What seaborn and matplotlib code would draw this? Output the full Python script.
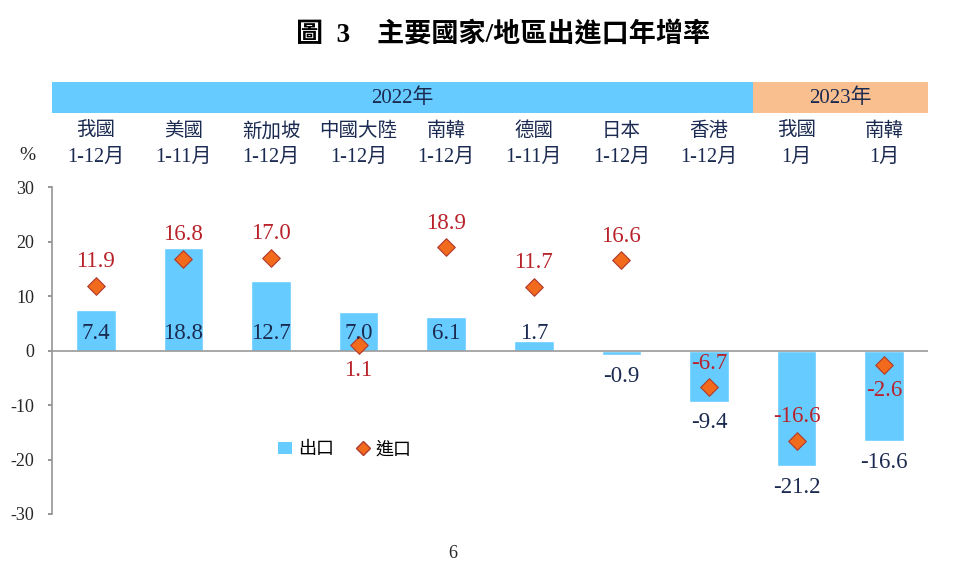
import matplotlib
matplotlib.use('Agg')
import matplotlib.pyplot as plt
import seaborn as sns
import pandas as pd
from matplotlib.patches import Rectangle, Patch
from matplotlib.lines import Line2D

# data
regions = ['我國', '美國', '新加坡', '中國大陸', '南韓', '德國', '日本', '香港', '我國', '南韓']
periods = ['1-12月', '1-11月', '1-12月', '1-12月', '1-12月', '1-11月', '1-12月', '1-12月', '1月', '1月']
exports = [7.4, 18.8, 12.7, 7.0, 6.1, 1.7, -0.9, -9.4, -21.2, -16.6]
imports = [11.9, 16.8, 17.0, 1.1, 18.9, 11.7, 16.6, -6.7, -16.6, -2.6]
import_label_below = [False, False, False, True, False, False, False, False, False, True]
years = ['2022年', '2023年']
year_counts = [8, 2]

sns.set_theme(style='white')
plt.rcParams['font.family'] = ['Liberation Serif', 'Noto Sans CJK TC']
plt.rcParams['axes.unicode_minus'] = False

BAR_BLUE = '#66CCFF'
BAND_ORANGE = '#F9BF8F'
NAVY = '#1B2A50'
RED = '#B8222A'

df = pd.DataFrame({'pos': range(len(regions)), 'exports': exports, 'imports': imports})

fig = plt.figure(figsize=(9.59, 5.64), dpi=100)
ax = fig.add_axes([52/959, 1-514/564, 876/959, 327/564])

sns.barplot(data=df, x='pos', y='exports', color=BAR_BLUE, width=0.45,
            saturation=1, ax=ax, native_scale=True)
sns.scatterplot(data=df, x='pos', y='imports', marker='D', s=80,
                color='#F26B1D', edgecolor='#B03A2E', linewidth=0.8, ax=ax, zorder=4)

ax.set_xlim(-0.5, len(regions)-0.5)
ax.set_ylim(-30, 30)
ax.set_yticks(range(-30, 31, 10))
ax.set_xticks([])
ax.set_xlabel('')
ax.set_ylabel('')
ax.tick_params(axis='y', labelsize=13, pad=10, length=3, color='#888888', left=True)
for s in ['top', 'right', 'bottom']:
    ax.spines[s].set_visible(False)
ax.spines['left'].set_color('#999999')
ax.axhline(0, color='#999999', lw=1.2, zorder=1)

# value labels
for i, v in enumerate(exports):
    y = 3.2 if v > 0 else v - 3.9
    ax.text(i, y, f'{v:.1f}', ha='center', va='center', fontsize=16.5, color=NAVY, zorder=5)
for i, v in enumerate(imports):
    y = v - 4.8 if import_label_below[i] else v + 4.4
    ax.text(i, y, f'{v:.1f}', ha='center', va='center', fontsize=16.5, color=RED, zorder=5)

# year header band
start = 0
n = len(regions)
for yr, cnt, col in zip(years, year_counts, [BAR_BLUE, BAND_ORANGE]):
    x0 = start / n
    ax.add_patch(Rectangle((x0, 1.226), cnt / n, 0.095, transform=ax.transAxes,
                           facecolor=col, edgecolor='none', clip_on=False))
    ax.text(x0 + cnt / n / 2, 1.273, yr, transform=ax.transAxes, ha='center',
            va='center', fontsize=15, color=NAVY)
    start += cnt

# category labels
for i, (r, p) in enumerate(zip(regions, periods)):
    ax.text((i + 0.5) / n, 1.171, r, transform=ax.transAxes, ha='center', va='center',
            fontsize=14, color=NAVY)
    ax.text((i + 0.5) / n, 1.089, p, transform=ax.transAxes, ha='center', va='center',
            fontsize=14.5, color=NAVY)

fig.text(27/959, 1-155/564, '%', ha='center', va='center', fontsize=14)
fig.text(503/959, 1-35/564, '圖  3    主要國家/地區出進口年增率', ha='center', va='center',
         fontsize=19.5, fontweight='bold', color='black')
fig.text(453/959, 1-553/564, '6', ha='center', va='center', fontsize=13)

handles = [Patch(facecolor=BAR_BLUE, edgecolor='none'),
           Line2D([], [], marker='D', ls='none', markerfacecolor='#F26B1D',
                  markeredgecolor='#B03A2E', markersize=7.5)]
ax.legend(handles, ['出口', '進口'], ncol=2, frameon=False, loc='center',
          bbox_to_anchor=(0.334, 0.196), fontsize=13, handlelength=0.8,
          handletextpad=0.3, columnspacing=1.2, labelcolor='black')

fig.savefig('out.png', dpi=100)
